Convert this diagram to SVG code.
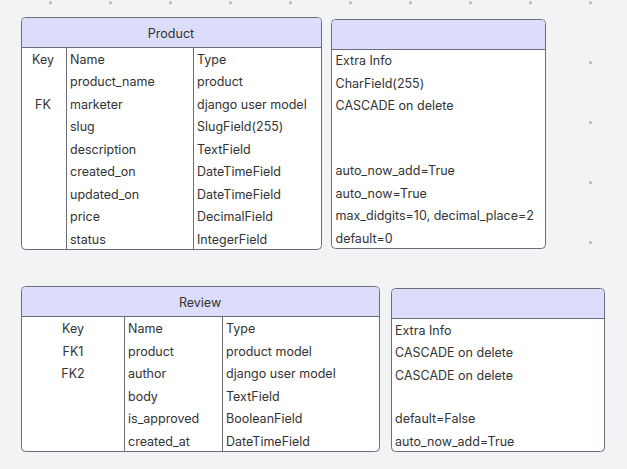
<svg xmlns="http://www.w3.org/2000/svg" width="627" height="469" viewBox="0 0 627 469">
<style>
.t{font-family:Inter,"Noto Sans",sans-serif;font-size:12.5px;fill:#333;dominant-baseline:central}
.c{text-anchor:middle}
.box{fill:#fff;stroke:#6b6e7a;stroke-width:1}
.hd{fill:#dcdcfb}
.ln{stroke:#6b6e7a;stroke-width:1}
.dot{fill:#b0b3ba}
</style>
<rect width="627" height="469" fill="#f2f3f5"/>
<g id="dots">
<circle class="dot" cx="50.5" cy="2.7" r="1.5"/><circle class="dot" cx="110.5" cy="2.7" r="1.5"/><circle class="dot" cx="170.5" cy="2.7" r="1.5"/><circle class="dot" cx="230.5" cy="2.7" r="1.5"/><circle class="dot" cx="290.5" cy="2.7" r="1.5"/><circle class="dot" cx="350.5" cy="2.7" r="1.5"/><circle class="dot" cx="410.5" cy="2.7" r="1.5"/><circle class="dot" cx="470.5" cy="2.7" r="1.5"/><circle class="dot" cx="530.5" cy="2.7" r="1.5"/><circle class="dot" cx="590.5" cy="2.7" r="1.5"/>
<circle class="dot" cx="590.5" cy="62.5" r="1.5"/><circle class="dot" cx="590.5" cy="122.5" r="1.5"/><circle class="dot" cx="590.5" cy="182.5" r="1.5"/><circle class="dot" cx="590.5" cy="242.5" r="1.5"/>
</g>
<g id="product">
<rect class="box" x="21.5" y="17.5" width="300" height="232" rx="4"/>
<path class="hd" d="M22,47 V22 Q22,18 26,18 H317 Q321,18 321,22 V47 Z"/>
<line class="ln" x1="21.5" y1="47.5" x2="321.5" y2="47.5"/>
<line class="ln" x1="66.5" y1="47.5" x2="66.5" y2="249.5"/>
<line class="ln" x1="193.5" y1="47.5" x2="193.5" y2="249.5"/>
<text class="t c" x="171" y="33">Product</text>
<text class="t c" x="43" y="59">Key</text><text class="t" x="70" y="59">Name</text><text class="t" x="197" y="59">Type</text>
<text class="t" x="70" y="81.5">product_name</text><text class="t" x="197" y="81.5">product</text>
<text class="t c" x="43" y="104">FK</text><text class="t" x="70" y="104">marketer</text><text class="t" x="197" y="104">django user model</text>
<text class="t" x="70" y="126.5">slug</text><text class="t" x="197" y="126.5">SlugField(255)</text>
<text class="t" x="70" y="149">description</text><text class="t" x="197" y="149">TextField</text>
<text class="t" x="70" y="171.5">created_on</text><text class="t" x="197" y="171.5">DateTimeField</text>
<text class="t" x="70" y="194">updated_on</text><text class="t" x="197" y="194">DateTimeField</text>
<text class="t" x="70" y="216.5">price</text><text class="t" x="197" y="216.5">DecimalField</text>
<text class="t" x="70" y="239">status</text><text class="t" x="197" y="239">IntegerField</text>
</g>
<g id="product-extra">
<rect class="box" x="331.5" y="19.5" width="214" height="229" rx="4"/>
<path class="hd" d="M332,49 V24 Q332,20 336,20 H541 Q545,20 545,24 V49 Z"/>
<line class="ln" x1="331.5" y1="49.5" x2="545.5" y2="49.5"/>
<text class="t" x="335.5" y="60.5">Extra Info</text>
<text class="t" x="335.5" y="83">CharField(255)</text>
<text class="t" x="335.5" y="105.5">CASCADE on delete</text>
<text class="t" x="335.5" y="170.5">auto_now_add=True</text>
<text class="t" x="335.5" y="193">auto_now=True</text>
<text class="t" x="335.5" y="215.5">max_didgits=10, decimal_place=2</text>
<text class="t" x="335.5" y="238">default=0</text>
</g>
<g id="review">
<rect class="box" x="21.5" y="286.5" width="358" height="165" rx="4"/>
<path class="hd" d="M22,316 V291 Q22,287 26,287 H375 Q379,287 379,291 V316 Z"/>
<line class="ln" x1="21.5" y1="316.5" x2="379.5" y2="316.5"/>
<line class="ln" x1="124.5" y1="316.5" x2="124.5" y2="451.5"/>
<line class="ln" x1="222.5" y1="316.5" x2="222.5" y2="451.5"/>
<text class="t c" x="200" y="302">Review</text>
<text class="t c" x="73" y="328.5">Key</text><text class="t" x="128" y="328.5">Name</text><text class="t" x="226" y="328.5">Type</text>
<text class="t c" x="73" y="351">FK1</text><text class="t" x="128" y="351">product</text><text class="t" x="226" y="351">product model</text>
<text class="t c" x="73" y="373.5">FK2</text><text class="t" x="128" y="373.5">author</text><text class="t" x="226" y="373.5">django user model</text>
<text class="t" x="128" y="396">body</text><text class="t" x="226" y="396">TextField</text>
<text class="t" x="128" y="418.5">is_approved</text><text class="t" x="226" y="418.5">BooleanField</text>
<text class="t" x="128" y="441">created_at</text><text class="t" x="226" y="441">DateTimeField</text>
</g>
<g id="review-extra">
<rect class="box" x="391.5" y="288.5" width="213" height="163" rx="4"/>
<path class="hd" d="M392,318 V293 Q392,289 396,289 H600 Q604,289 604,293 V318 Z"/>
<line class="ln" x1="391.5" y1="318.5" x2="604.5" y2="318.5"/>
<text class="t" x="395" y="330">Extra Info</text>
<text class="t" x="395" y="352.5">CASCADE on delete</text>
<text class="t" x="395" y="375">CASCADE on delete</text>
<text class="t" x="395" y="418.5">default=False</text>
<text class="t" x="395" y="441">auto_now_add=True</text>
</g>
<g id="connectors"></g>
</svg>
